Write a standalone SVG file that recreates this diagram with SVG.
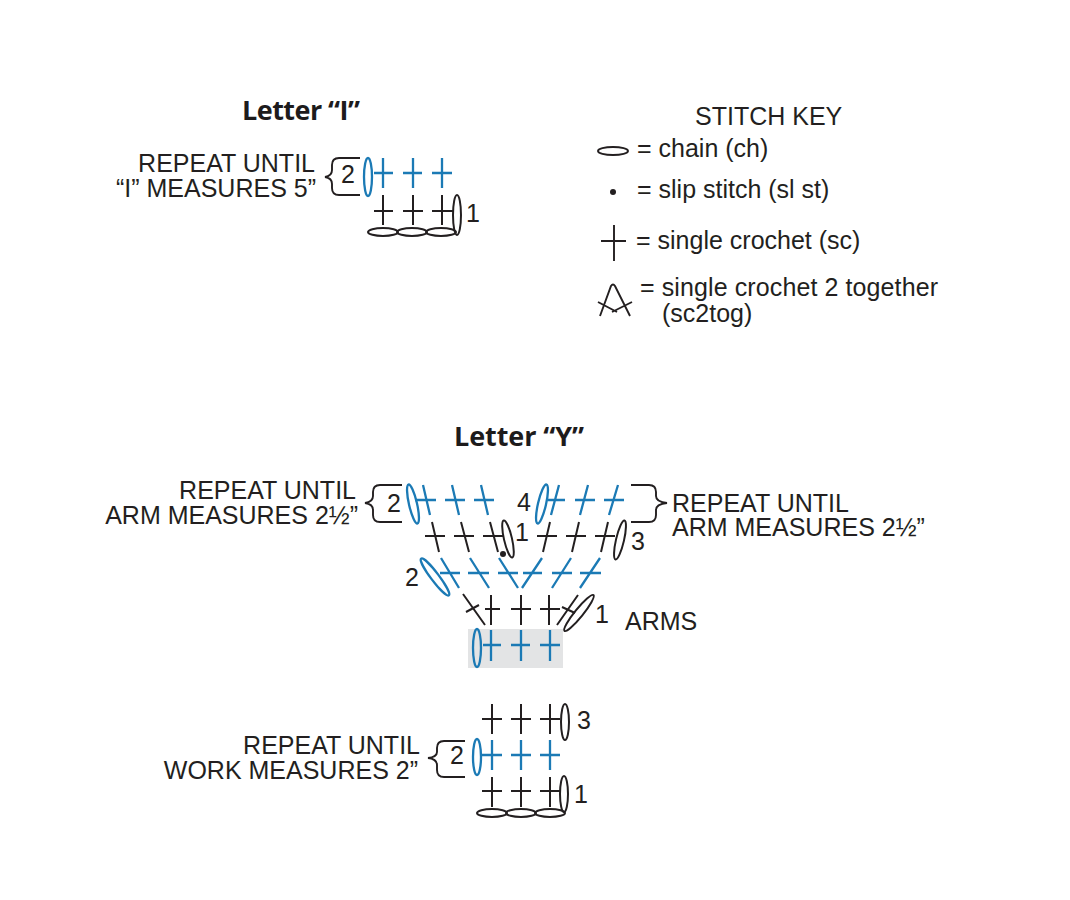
<svg xmlns="http://www.w3.org/2000/svg" width="1070" height="900" viewBox="0 0 1070 900">
<style>
text{font-family:"Liberation Sans",Arial,sans-serif;font-size:25px;fill:#231f20}
.t{font-family:"Open Sans","Noto Sans",sans-serif;font-weight:700;font-size:27px;fill:#1d1b1c}
.e{text-anchor:end}.m{text-anchor:middle}
path,ellipse{fill:none;stroke-width:1.9;stroke:#231f20}
.b path,.b ellipse{stroke:#1b7ab5;stroke-width:2.3}
.d path,.d ellipse{stroke:#231f20;stroke-width:2}
</style>
<rect width="1070" height="900" fill="#fff"/>
<g id="letter-i">
<text class="t" x="242" y="120" textLength="118">Letter “I”</text>
<text class="e"><tspan x="315" y="172">REPEAT UNTIL</tspan><tspan x="316" y="197">“I” MEASURES 5”</tspan></text>
<path d="M360 158H339Q332 158 332 165V170Q332 176 325 177Q332 178 332 184V188Q332 195 339 195H360"/>
<text class="m" x="348" y="183">2</text>
<g class="b"><ellipse cx="368" cy="177" rx="4" ry="19"/><path d="M383 158V188M374 173H393M413 158V188M403 173H422M442 158V188M432 173H452"/></g>
<g class="d"><path d="M383 195V225M374 211H393M413 195V225M403 211H423M442 195V225M432 211H453"/>
<ellipse cx="457" cy="215" rx="4" ry="20"/><ellipse cx="383" cy="232" rx="15" ry="4"/><ellipse cx="412" cy="232" rx="15" ry="4"/><ellipse cx="441" cy="232" rx="15" ry="4"/></g>
<text class="m" x="473" y="222">1</text>
</g>
<g id="stitch-key">
<text x="695" y="125">STITCH KEY</text>
<ellipse cx="613" cy="151" rx="15" ry="4"/>
<text x="637" y="157">= chain (ch)</text>
<circle cx="613" cy="192" r="3" fill="#231f20"/>
<text x="637" y="198">= slip stitch (sl st)</text>
<path d="M601 241H626M614 225V261"/>
<text x="636" y="249">= single crochet (sc)</text>
<path d="M600 316L611 286Q613 283 615 286L630 316M598 302L617 312M632 302L612 312" stroke-width="1.6"/>
<text><tspan x="640" y="296" textLength="298">= single crochet 2 together</tspan><tspan x="662" y="322">(sc2tog)</tspan></text>
</g>
<g id="letter-y">
<text class="t" x="454" y="446" textLength="130">Letter “Y”</text>
<text class="e"><tspan x="356" y="499">REPEAT UNTIL</tspan><tspan x="358" y="524">ARM MEASURES 2½”</tspan></text>
<path d="M402 485H380Q373 485 373 492V496Q373 502 365 503Q373 504 373 510V515Q373 522 380 522H402"/>
<text class="m" x="394" y="512">2</text>
<g class="b"><ellipse transform="rotate(-13 413 504)" cx="413" cy="504" rx="4" ry="20"/>
<path d="M415 500H436M423 485L430 515M445 500H465M452 485L459 515M474 500H494M481 485L488 515"/>
<ellipse transform="rotate(13 542 504)" cx="542" cy="504" rx="4" ry="20"/>
<path d="M548 500H565M559 485L551 515M575 500H595M588 485L580 515M604 500H624M618 485L609 515"/></g>
<text class="m" x="524" y="511">4</text>
<path d="M631 485H649Q656 485 656 492V496Q656 502 667 503Q656 504 656 510V515Q656 522 649 522H631"/>
<text><tspan x="672" y="512">REPEAT UNTIL</tspan><tspan x="672" y="536">ARM MEASURES 2½”</tspan></text>
<g class="d"><path d="M425 536H445M432 522L439 552M454 536H474M461 522L469 552M483 536H503M490 522L498 552"/>
<ellipse transform="rotate(-13 508 539)" cx="508" cy="539" rx="4" ry="19"/>
<path d="M537 536H557M550 522L543 552M566 536H586M579 522L572 552M595 536H615M608 522L601 552"/>
<ellipse transform="rotate(13 620 540)" cx="620" cy="540" rx="4" ry="20"/></g>
<circle cx="503" cy="554" r="3" fill="#231f20"/>
<text class="m" x="522" y="541">1</text>
<text class="m" x="638" y="550">3</text>
<text class="m" x="412" y="586">2</text>
<g class="b"><ellipse transform="rotate(-37 435 577)" cx="435" cy="577" rx="4" ry="23"/>
<path d="M440 573H460M441 558L459 588M468 573H489M470 558L489 588M498 573H518M499 558L518 588M523 573H542M542 558L522 588M552 573H572M571 558L552 588M580 573H601M600 558L580 588"/></g>
<g class="d"><path d="M463 594L485 625M466 612L479 605M491 595V625M485 609H500M521 595V625M511 609H531M549 595V625M540 609H560M578 595L557 625M562 607L575 613"/>
<ellipse transform="rotate(39 579 613)" cx="579" cy="613" rx="4" ry="23"/></g>
<text class="m" x="602" y="623">1</text>
<text x="625" y="630">ARMS</text>
<rect x="468" y="629" width="95" height="39" fill="#e3e4e5"/>
<g class="b"><ellipse cx="477" cy="648" rx="4" ry="19"/>
<path d="M491 630V661M483 645H501M521 630V661M511 645H530M550 630V661M540 645H560"/></g>
<g class="d"><path d="M492 704V734M482 719H502M521 704V734M511 719H531M550 704V734M540 719H560"/>
<ellipse cx="565" cy="722" rx="4" ry="18"/></g>
<text class="m" x="584" y="729">3</text>
<text class="e"><tspan x="420" y="754">REPEAT UNTIL</tspan><tspan x="418" y="779">WORK MEASURES 2”</tspan></text>
<path d="M465 741H444Q437 741 437 748V752Q437 757 428 758Q437 759 437 765V770Q437 777 444 777H465"/>
<text class="m" x="457" y="764">2</text>
<g class="b"><ellipse cx="477" cy="757" rx="4" ry="18"/>
<path d="M492 740V770M482 755H502M521 740V770M511 755H531M550 740V770M540 755H560"/></g>
<g class="d"><path d="M492 777V807M482 791H502M521 777V807M511 791H531M550 777V807M540 791H560"/>
<ellipse cx="564" cy="794" rx="4" ry="18"/>
<ellipse cx="492" cy="813" rx="15" ry="4"/><ellipse cx="521" cy="813" rx="15" ry="4"/><ellipse cx="550" cy="813" rx="15" ry="4"/></g>
<text class="m" x="581" y="803">1</text>
</g>
</svg>
